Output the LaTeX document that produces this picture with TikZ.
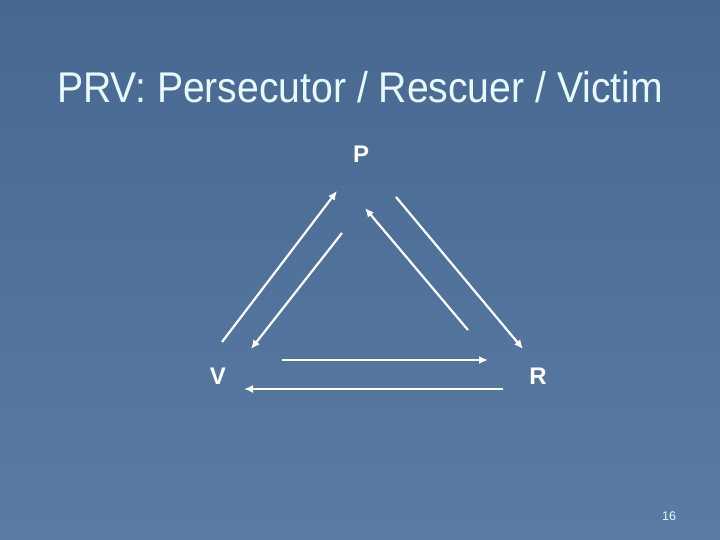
\documentclass[tikz,border=0pt]{standalone}
\usepackage{fontspec}
\setmainfont{Liberation Sans}
\newfontfamily\titlefont[FakeStretch=0.91]{Liberation Sans}
\usetikzlibrary{arrows.meta}

\definecolor{slidetop}{RGB}{70,104,145}
\definecolor{slidebottom}{RGB}{90,124,164}
\definecolor{titlecol}{RGB}{232,250,255}

\tikzset{
	role/.style={text=white, font=\bfseries\fontsize{24}{28}\selectfont, inner sep=0pt},
	move/.style={draw=white, line width=2.2pt, -{Latex[length=9pt,width=8pt]}}
}

\begin{document}
\begin{tikzpicture}[x=1pt, y=-1pt]
		% Slide background
		\shade[top color=slidetop, bottom color=slidebottom] (0,0) rectangle (720,540);
		\useasboundingbox (0,0) rectangle (720,540);
		
		% Title
		\node[text=titlecol, font=\titlefont\fontsize{43}{48}\selectfont, inner sep=0pt] (title) at (360,87) {PRV: Persecutor / Rescuer / Victim};
		
		% Label the roles
		\node[role] (P) at (361,154) {P};
		\node[role] (V) at (218,376) {V};
		\node[role] (R) at (538,376) {R};
		
		% Ends of the moves
		\coordinate (vp1) at (222,342);
		\coordinate (vp2) at (337,191);
		\coordinate (pv1) at (342,233);
		\coordinate (pv2) at (251,349);
		\coordinate (rp1) at (468,330);
		\coordinate (rp2) at (365,208);
		\coordinate (pr1) at (396,197);
		\coordinate (pr2) at (523,349);
		\coordinate (vr1) at (282,360);
		\coordinate (vr2) at (488,360);
		\coordinate (rv1) at (503,389);
		\coordinate (rv2) at (244,389);
		
		% Draw the moves
		\draw[move] (vp1) -- (vp2);
		\draw[move] (pv1) -- (pv2);
		\draw[move] (rp1) -- (rp2);
		\draw[move] (pr1) -- (pr2);
		\draw[move] (vr1) -- (vr2);
		\draw[move] (rv1) -- (rv2);
		
		% Page number
		\node[text=titlecol, font=\fontsize{12.5}{14}\selectfont, inner sep=0pt] (page) at (669,516) {16};
	\end{tikzpicture}
\end{document}
